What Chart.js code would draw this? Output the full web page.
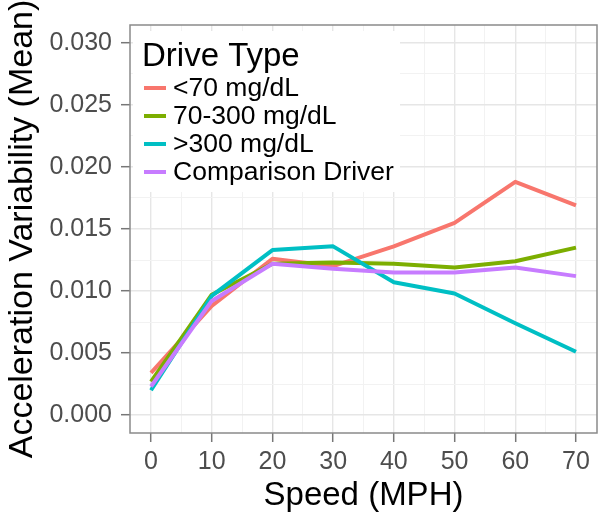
<!DOCTYPE html>
<html>
<head>
<meta charset="utf-8">
<script src="https://cdn.jsdelivr.net/npm/chart.js@4/dist/chart.umd.min.js"></script>
<style>
  body { margin: 0; background: #fff; }
  canvas { display: block; }
</style>
</head>
<body>
<canvas id="accelChart" width="600" height="522"></canvas>
<script>
// Speed categories (MPH)
const speeds = [0, 10, 20, 30, 40, 50, 60, 70];

// Mean acceleration variability per drive type
const lowGlucose = [0.0034, 0.0088, 0.0126, 0.0120, 0.0136, 0.0155, 0.0188, 0.0169];
const midGlucose = [0.0027, 0.0097, 0.0122, 0.0123, 0.0122, 0.0119, 0.0124, 0.0135];
const highGlucose = [0.0020, 0.0096, 0.0133, 0.0136, 0.0107, 0.0098, 0.0074, 0.0051];
const comparisonDriver = [0.0023, 0.0092, 0.0122, 0.0118, 0.0115, 0.0115, 0.0119, 0.0112];

const seriesNames = ['<70 mg/dL', '70-300 mg/dL', '>300 mg/dL', 'Comparison Driver'];
const seriesColors = ['#F8766D', '#7CAE00', '#00BFC4', '#C77CFF'];

// Axis ticks
const xTickValues = [0, 10, 20, 30, 40, 50, 60, 70];
const yTickValues = [0, 0.005, 0.010, 0.015, 0.020, 0.025, 0.030];
const yTickLabels = ['0.000', '0.005', '0.010', '0.015', '0.020', '0.025', '0.030'];

const FONT = "'Liberation Sans', Arial, sans-serif";

// major ticks plus minor ones halfway between
function withMinor(major) {
    const out = [];
    major.forEach((v, i) => {
        out.push({ value: v, major: true });
        if (i < major.length - 1) out.push({ value: (v + major[i + 1]) / 2, major: false });
    });
    return out;
}

function isMajor(ctx) {
    return ctx.tick && ctx.tick.major;
}

// panel border + legend inside the plot, ggplot style
const panelPlugin = {
    id: 'panel',
    afterDatasetsDraw(chart) {
        const { ctx, chartArea: a } = chart;
        ctx.save();
        ctx.strokeStyle = '#8a8a8a';
        ctx.lineWidth = 1.5;
        ctx.strokeRect(a.left, a.top, a.right - a.left, a.bottom - a.top);

        // legend box
        ctx.fillStyle = '#fff';
        ctx.fillRect(133, 31, 267, 161);
        ctx.fillStyle = '#000';
        ctx.textBaseline = 'middle';
        ctx.font = '33px ' + FONT;
        ctx.fillText('Drive Type', 142, 57);
        ctx.font = '26.5px ' + FONT;
        chart.data.datasets.forEach((ds, i) => {
            const y = 88 + i * 28;
            ctx.strokeStyle = ds.borderColor;
            ctx.lineWidth = 4;
            ctx.beginPath();
            ctx.moveTo(144, y);
            ctx.lineTo(166, y);
            ctx.stroke();
            ctx.fillStyle = '#000';
            ctx.fillText(ds.label, 173, y + 1);
        });
        ctx.restore();
    }
};

const seriesData = [lowGlucose, midGlucose, highGlucose, comparisonDriver];

new Chart(document.getElementById('accelChart'), {
    type: 'line',
    data: {
        datasets: seriesData.map((vals, i) => ({
            label: seriesNames[i],
            data: speeds.map((s, j) => ({ x: s, y: vals[j] })),
            borderColor: seriesColors[i],
            borderWidth: 4,
            pointRadius: 0,
            tension: 0,
            fill: false,
            borderJoinStyle: 'round',
            order: seriesData.length - i
        }))
    },
    options: {
        responsive: false,
        animation: false,
        layout: { padding: { top: 25, right: 3, left: 0, bottom: 0 } },
        plugins: {
            legend: { display: false },
            tooltip: { enabled: false }
        },
        scales: {
            x: {
                type: 'linear',
                min: -3.46,
                max: 73.46,
                afterBuildTicks: s => { s.ticks = withMinor(xTickValues); },
                afterFit: s => { s.height = 89; },
                border: { display: false },
                grid: {
                    color: ctx => isMajor(ctx) ? '#e6e6e6' : '#f2f2f2',
                    lineWidth: ctx => isMajor(ctx) ? 1.4 : 1,
                    tickColor: ctx => isMajor(ctx) ? '#777' : 'rgba(0,0,0,0)',
                    tickLength: 9,
                    tickWidth: 1.5
                },
                ticks: {
                    autoSkip: false,
                    maxRotation: 0,
                    padding: 5,
                    color: '#4d4d4d',
                    font: { family: FONT, size: 25 },
                    callback: (v, i, ticks) => ticks[i].major ? String(v) : ''
                },
                title: {
                    display: true,
                    text: 'Speed (MPH)',
                    color: '#000',
                    font: { family: FONT, size: 33 },
                    padding: { top: 0, bottom: 6 }
                }
            },
            y: {
                type: 'linear',
                min: -0.00145,
                max: 0.03145,
                afterBuildTicks: s => { s.ticks = withMinor(yTickValues); },
                afterFit: s => { s.width = 130; },
                border: { display: false },
                grid: {
                    color: ctx => isMajor(ctx) ? '#e6e6e6' : '#f2f2f2',
                    lineWidth: ctx => isMajor(ctx) ? 1.4 : 1,
                    tickColor: ctx => isMajor(ctx) ? '#777' : 'rgba(0,0,0,0)',
                    tickLength: 9,
                    tickWidth: 1.5
                },
                ticks: {
                    autoSkip: false,
                    padding: 9,
                    color: '#4d4d4d',
                    font: { family: FONT, size: 25 },
                    callback: (v, i, ticks) => {
                        if (!ticks[i].major) return '';
                        return yTickLabels[yTickValues.indexOf(v)];
                    }
                },
                title: {
                    display: true,
                    text: 'Acceleration Variability (Mean)',
                    color: '#000',
                    font: { family: FONT, size: 34 },
                    padding: { top: 2, bottom: 0 }
                }
            }
        }
    },
    plugins: [panelPlugin]
});
</script>
</body>
</html>
